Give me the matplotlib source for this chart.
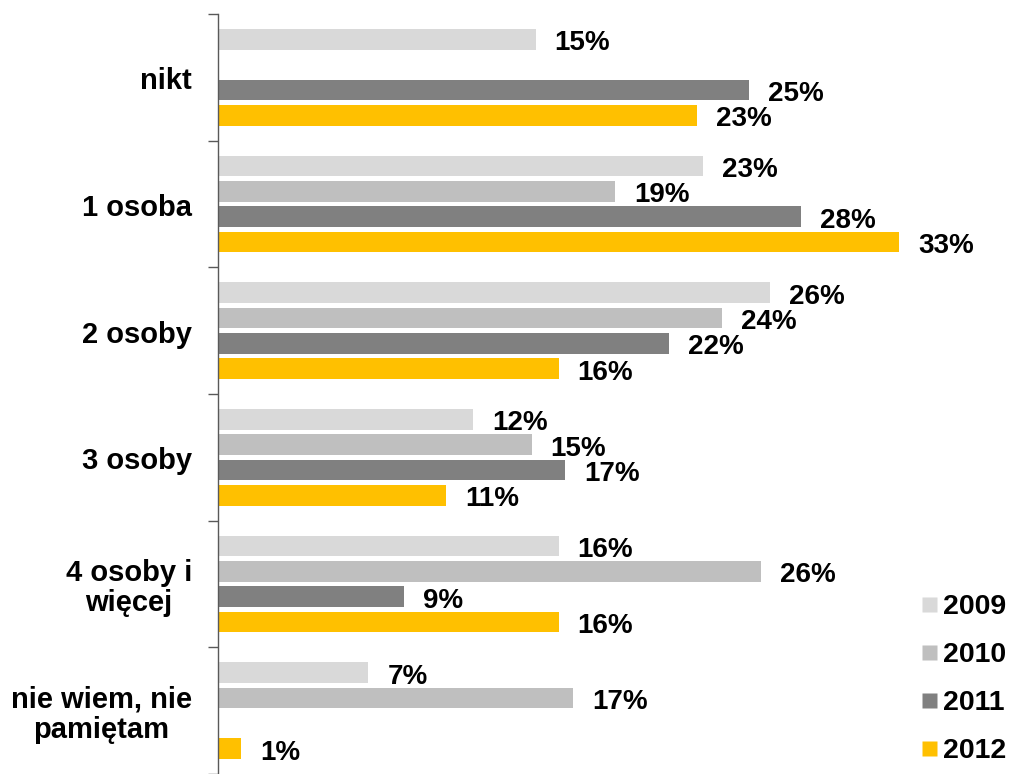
import numpy as np
import matplotlib
matplotlib.use("Agg")
import matplotlib.pyplot as plt
from matplotlib.lines import Line2D

plt.rcParams['font.family'] = ['Liberation Sans', 'DejaVu Sans']
plt.rcParams['font.weight'] = 'bold'

categories = ["nikt", "1 osoba", "2 osoby", "3 osoby",
              "4 osoby i\nwięcej", "nie wiem, nie\npamiętam"]
years = ["2009", "2010", "2011", "2012"]
v2009 = [15.2, 23.2, 26.4, 12.2, 16.3, 7.2]
v2010 = [None, 19.0, 24.1, 15.0, 26.0, 17.0]
v2011 = [25.4, 27.9, 21.6, 16.6, 8.9, None]
v2012 = [22.9, 32.6, 16.3, 10.9, 16.3, 1.1]
series = [v2009, v2010, v2011, v2012]
colors = ["#D9D9D9", "#BFBFBF", "#808080", "#FFC000"]

W, H, DPI = 1013, 774, 100
fig = plt.figure(figsize=(W / DPI, H / DPI), dpi=DPI)
ax_left, ax_top = 218, 14
cat_px = 127.6
px_per_unit = 20.9
xmax = 36
ylim_bottom = -0.5 + (H - ax_top) / cat_px
ax = fig.add_axes([ax_left / W, 0, xmax * px_per_unit / W, 1 - ax_top / H])

slot = 0.2
bar_h = 0.165
for s, (vals, col) in enumerate(zip(series, colors)):
    for i, v in enumerate(vals):
        if v is None:
            continue
        y = i + (s - 1.5) * slot
        ax.barh(y, v, height=bar_h, color=col, edgecolor='none')
        ax.annotate(f"{round(v)}%", xy=(v, y), xytext=(19, -4), textcoords='offset pixels',
                    ha='left', va='center', fontsize=20, fontweight='bold',
                    color='black')

ax.set_xlim(0, xmax)
ax.set_ylim(ylim_bottom, -0.5)
ax.set_xticks([])
ax.set_yticks(np.arange(-0.5, len(categories) + 0.5, 1))
ax.set_yticklabels([])
ax.tick_params(axis='y', length=7, width=1, color='#595959')
for sp in ['top', 'right', 'bottom']:
    ax.spines[sp].set_visible(False)
ax.spines['left'].set_color('#595959')
ax.spines['left'].set_linewidth(1)

# category labels
for i, lab in enumerate(categories):
    ax.annotate(lab, xy=(0, i), xycoords=('axes fraction', 'data'),
                xytext=(-26, -4), textcoords='offset pixels',
                ha='right', va='center', multialignment='center',
                linespacing=1.1, fontsize=21, fontweight='bold')

handles = [Line2D([], [], marker='s', linestyle='none', markersize=10.8,
                  markerfacecolor=c, markeredgecolor='none') for c in colors]
fig.legend(handles, years, loc='center left', bbox_to_anchor=(919 / W, 1 - 679 / H),
           frameon=False, handlelength=0.7, handletextpad=0.15,
           labelspacing=0.78, borderpad=0, borderaxespad=0,
           prop={'weight': 'bold', 'size': 20.5})

fig.savefig("out.png", dpi=DPI)
